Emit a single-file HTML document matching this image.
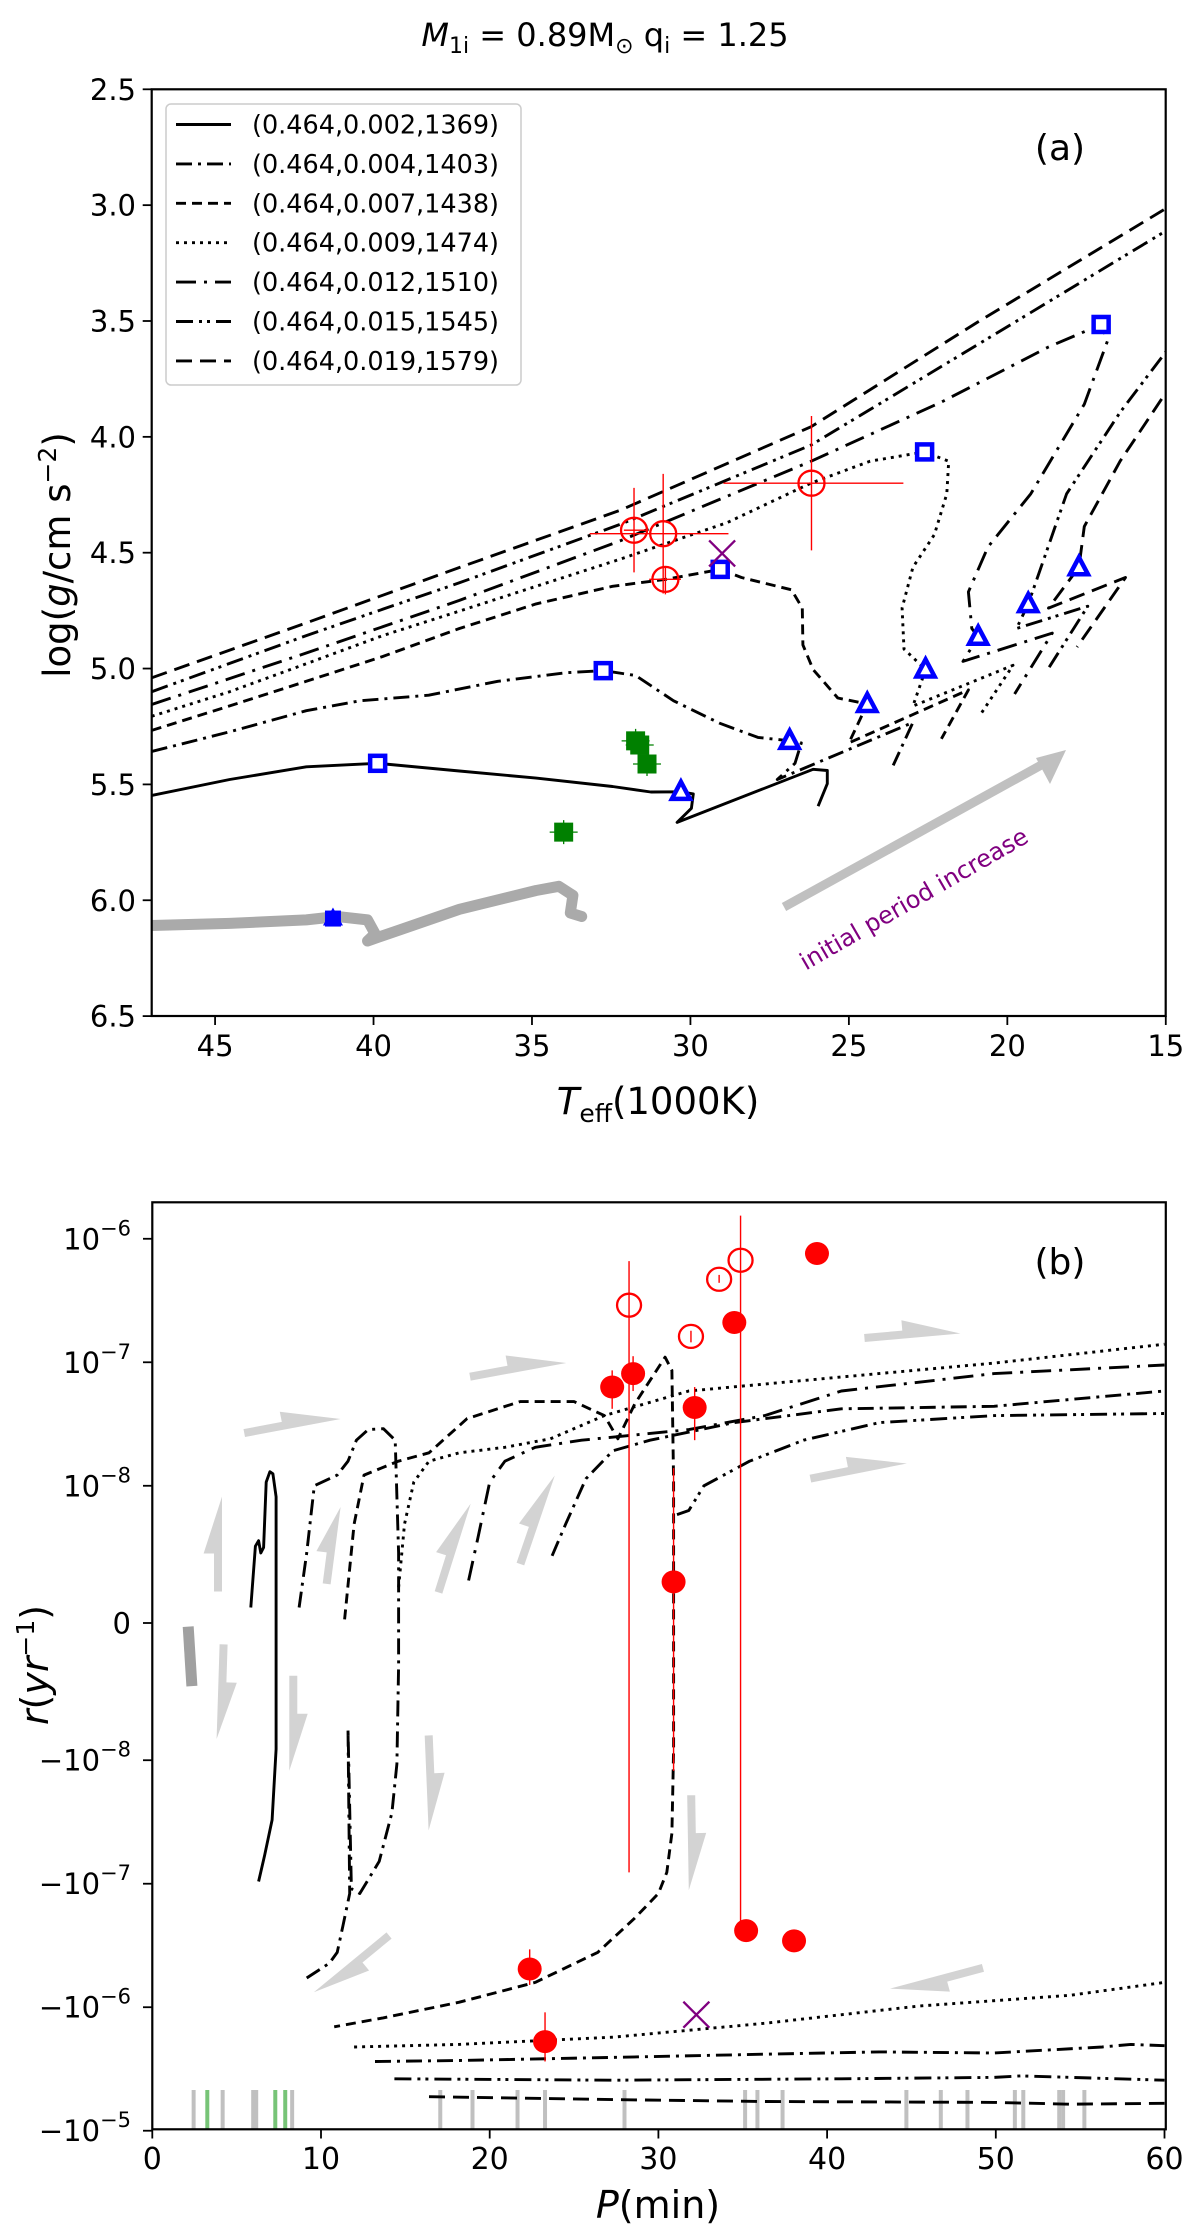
<!DOCTYPE html>
<html><head><meta charset="utf-8"><style>
html,body{margin:0;padding:0;background:#fff;}
svg{display:block;font-family:"DejaVu Sans","Liberation Sans",sans-serif;}
</style></head><body>
<svg id="fig" xmlns="http://www.w3.org/2000/svg" width="1200" height="2231" viewBox="0 0 1200 2231">
<defs>
<clipPath id="clipA"><rect x="151.7" y="89.3" width="1014" height="926.7"/></clipPath>
<clipPath id="clipB"><rect x="152" y="1202" width="1014" height="927.5"/></clipPath>
</defs>
<text x="605" y="46" font-size="32" text-anchor="middle"><tspan font-style="italic">M</tspan><tspan font-size="22" dy="7">1i</tspan><tspan dy="-7"> = 0.89M</tspan><tspan font-size="22" dy="7">⊙</tspan><tspan dy="-7"> q</tspan><tspan font-size="22" dy="7">i</tspan><tspan dy="-7"> = 1.25</tspan></text>
<g id="panelA"></g>
<g id="panelB"></g>
</svg>
<script>
// ---------- Panel (a) data: Teff (1000K) and log g ----------
const c002T=[47,44.54,42.12,39.87,37.29,34.87,32.46,31.25,30.30,29.91,29.97,30.42,26.13,25.68,25.68,25.97];
const c002G=[5.548,5.479,5.424,5.409,5.442,5.473,5.509,5.533,5.532,5.541,5.603,5.664,5.435,5.440,5.497,5.594];
const c004T=[47,44.54,42.12,40.43,38.26,36.08,33.91,32.75,31.73,30.53,29.08,27.87,26.87,26.5,26.7,27.26,22.98,23.6];
const c004G=[5.358,5.273,5.182,5.139,5.115,5.055,5.018,5.009,5.03,5.139,5.236,5.297,5.312,5.321,5.409,5.479,5.233,5.418];
const c007T=[47,44.54,42.12,39.71,37.29,34.87,32.46,30.77,29.06,28.39,26.81,26.47,26.45,26.13,25.35,24.42,25.0,21.23,22.08];
const c007G=[5.267,5.161,5.055,4.948,4.827,4.721,4.645,4.615,4.572,4.607,4.660,4.739,4.898,5.004,5.127,5.153,5.321,5.092,5.303];
const c009T=[47,44.54,42.12,39.71,37.29,34.87,32.22,28.84,26.19,24.33,22.61,21.85,21.91,22.3,22.98,23.32,23.26,22.58,22.98,19.82,20.84];
const c009G=[5.206,5.1,4.979,4.858,4.752,4.645,4.528,4.37,4.199,4.105,4.065,4.105,4.246,4.422,4.563,4.739,4.916,5.004,5.162,4.986,5.197];
const c012T=[47,42.12,37.29,32.22,26.19,22.08,18.7,17.04,16.84,17.57,19.26,20.61,21.23,21.12,20.92,21.4,18.58,19.77];
const c012G=[5.155,4.933,4.706,4.449,4.105,3.85,3.612,3.515,3.586,3.859,4.246,4.475,4.669,4.827,4.863,4.969,4.847,5.11];
const c015T=[47,42.12,37.29,32.22,26.19,20.95,14.98,13.5,14.98,16.44,18.13,19.34,19.71,17.46,18.76];
const c015G=[5.1,4.858,4.63,4.378,4.035,3.603,3.11,3.35,3.63,3.894,4.246,4.722,4.827,4.731,5.012];
const c019T=[47,42.12,37.29,32.22,26.19,20.95,14.98,13.3,14.98,16.44,17.57,17.74,18.7,16.27,17.8];
const c019G=[5.04,4.803,4.564,4.317,3.956,3.506,3.013,3.4,3.806,4.105,4.387,4.563,4.739,4.607,4.907];
const grayT=[47,44.54,42.12,41.15,40.19,39.95,40.19,39.22,37.29,34.87,34.15,33.71,33.79,33.43];
const grayG=[6.109,6.1,6.085,6.07,6.085,6.145,6.176,6.13,6.039,5.958,5.94,5.979,6.055,6.07];
const triT=[30.30,26.87,24.42,22.58,20.92,19.34,17.74];
const triG=[5.532,5.312,5.153,5.004,4.863,4.722,4.563];
const sqT=[39.87,32.75,29.06,22.61,17.04];
const sqG=[5.409,5.009,4.572,4.065,3.515];
const obsT=[31.78,30.86,30.79,26.18];
const obsG=[4.403,4.418,4.615,4.2];
const obsTlo=[32.1,33.18,31.3,28.96];
const obsThi=[31.4,28.8,30.3,23.28];
const obsGlo=[4.22,4.16,4.56,3.91];
const obsGhi=[4.585,4.676,4.68,4.49];
const grnT=[31.73,31.6,31.37,34.0];
const grnG=[5.312,5.33,5.412,5.706];
const crossA=[29.0,4.503];
const legendLabels=["(0.464,0.002,1369)","(0.464,0.004,1403)","(0.464,0.007,1438)","(0.464,0.009,1474)","(0.464,0.012,1510)","(0.464,0.015,1545)","(0.464,0.019,1579)"];
const xTicksA=[45,40,35,30,25,20,15];
const yTicksA=[2.5,3.0,3.5,4.0,4.5,5.0,5.5,6.0,6.5];

// ---------- Panel (b) data: P (min) and r (yr^-1) ----------
const b002P=[5.84,6.11,6.3,6.43,6.6,6.75,6.97,7.15,7.34,7.34,7.34,7.1,6.66,6.3];
const b002R=[1.13e-9,5.6e-9,6.0e-9,5.1e-9,5.5e-9,1.07e-8,1.3e-8,1.25e-8,9.2e-9,0,-9.2e-9,-3.04e-8,-5.85e-8,-9.6e-8];
const b004P=[8.7,9.15,9.6,10.96,11.6,12.1,12.8,13.7,14.4,14.6,14.6,14.5,14.2,13.45,12.3,11.8,11.6,11.7,11.3,10.96,10.5,9.15];
const b004R=[1.13e-9,5.1e-9,1e-8,1.22e-8,1.58e-8,2.34e-8,2.85e-8,2.9e-8,2.34e-8,5.1e-9,-3.1e-9,-1.07e-8,-2.67e-8,-6.6e-8,-1.2e-7,-1.1e-7,-7.7e-9,-1.2e-7,-2.2e-7,-3.6e-7,-4.4e-7,-5.8e-7];
const b007P=[11.4,11.96,12.55,14.58,16.4,18.66,21.8,25,26.8,27.6,28.6,30.4,30.8,30.9,30.9,30.9,30.8,30.5,30,28.6,26.4,22.7,18.2,13.68,10.78];
const b007R=[2.6e-10,7.2e-9,1.22e-8,1.58e-8,1.85e-8,3.5e-8,4.8e-8,4.8e-8,3.7e-8,2.4e-8,4.6e-8,1.1e-7,8.6e-8,1.07e-8,0,-9.2e-9,-3.9e-8,-8.1e-8,-1.2e-7,-1.9e-7,-3.6e-7,-6.3e-7,-9.1e-7,-1.22e-6,-1.44e-6];
const b009P=[14.6,14.95,15.5,16.4,18.2,20.9,23.6,26.8,31.8,40.85,49.9,60];
const b009R=[2.6e-9,7.2e-9,1.07e-8,1.58e-8,1.85e-8,2.05e-8,2.4e-8,3.7e-8,5.85e-8,7.6e-8,9.85e-8,1.4e-7];
const b009lP=[11.96,18.2,27.3,36.3,45.4,54.4,60];
const b009lR=[-2.1e-6,-2.0e-6,-1.75e-6,-1.35e-6,-9.8e-7,-8.0e-7,-6.3e-7];
const b012P=[18.75,19.3,20,20.9,22.7,25.45,31.8,36.3,40.85,49.9,60];
const b012R=[3.1e-9,6.2e-9,1.07e-8,1.58e-8,2.05e-8,2.34e-8,2.85e-8,3.7e-8,5.85e-8,8.1e-8,9.5e-8];
const b012lP=[13.2,18.2,27.3,36.3,43.1,49.9,56.3,58,60];
const b012lR=[-2.75e-6,-2.7e-6,-2.55e-6,-2.4e-6,-2.3e-6,-2.35e-6,-2.1e-6,-2.0e-6,-2.05e-6];
const b015P=[23.7,24.5,25.7,27.3,29.5,34.5,40.85,49.9,60];
const b015R=[4.9e-9,7.2e-9,1.14e-8,1.92e-8,2.34e-8,3.25e-8,4.2e-8,4.4e-8,5.85e-8];
const b015lP=[14.35,27.3,40.85,49.9,51.5,60];
const b015lR=[-3.8e-6,-3.9e-6,-3.8e-6,-3.7e-6,-3.6e-6,-3.9e-6];
const b019P=[31.1,31.8,32.7,35.4,38.6,43.1,49.9,60];
const b019R=[7.9e-9,8.2e-9,1e-8,1.58e-8,2.34e-8,3.25e-8,3.7e-8,3.85e-8];
const b019lP=[16.4,27.3,36.3,49.9,54.4,60];
const b019lR=[-5.3e-6,-5.6e-6,-5.8e-6,-5.9e-6,-6.1e-6,-6.0e-6];
const bGrayP=[2.13,2.35];
const bGrayR=[-2.6e-10,-4.6e-9];
const filledP=[27.26,28.5,32.15,34.5,39.4,30.9,35.2,38.04,22.37,23.28];
const filledR=[6.3e-8,8.1e-8,4.3e-8,2.1e-7,7.6e-7,3.0e-9,-2.4e-7,-2.9e-7,-4.9e-7,-1.9e-6];
const filledLo=[4.2e-8,5.85e-8,2.34e-8,null,null,-1.22e-8,null,null,-6.6e-7,-2.75e-6];
const filledHi=[8.6e-8,1.12e-7,6.3e-8,null,null,1.39e-8,null,null,-3.4e-7,-1.1e-6];
const openP=[28.26,31.93,33.6,34.87];
const openR=[2.9e-7,1.62e-7,4.7e-7,6.7e-7];
const openLo=[-8.1e-8,1.45e-7,4.4e-7,-2.2e-7];
const openHi=[6.6e-7,1.8e-7,5.1e-7,1.54e-6];
const crossB=[32.25,-1.15e-6];
const rugGrayP=[2.45,4.17,5.98,6.16,8.29,17.07,18.98,21.65,23.28,27.99,35.14,35.87,37.36,44.7,46.74,48.32,51.13,51.63,53.76,53.99,55.25];
const rugGreenP=[3.26,7.29,7.88];
const xTicksB=[0,10,20,30,40,50,60];
const yTicksB=[1e-6,1e-7,1e-8,0,-1e-8,-1e-7,-1e-6,-1e-5];
const yTickLabB=["6","7","8","0","8","7","6","5"];

// ---------- helpers ----------
const NS="http://www.w3.org/2000/svg";
function mk(tag,attrs,parent){const e=document.createElementNS(NS,tag);for(const k in attrs)e.setAttribute(k,attrs[k]);parent.appendChild(e);return e;}
const XA=T=>151.7+(47-T)*31.69;
const YA=g=>89.3+(g-2.5)*231.7;
const XB=P=>152.3+P*16.87;
function YB(r){const lt=1e-8,ls=1/0.9;const a=Math.abs(r);let s;if(a<=lt)s=r/lt*ls;else s=Math.sign(r)*(ls+Math.log10(a/lt));return 1623-s*123.5;}
const LW=2.9;
const DASH={c002:"",c004:"16,6,3,6",c007:"10,6",c009:"3,5",c012:"20,8,3,8",c015:"17,6,3,5,3,6",c019:"16,8"};

const A=document.getElementById('panelA');
const B=document.getElementById('panelB');

// ---------- Panel A ----------
const gA=mk('g',{'clip-path':'url(#clipA)'},A);


function lineA(Ts,Gs,name,extra){
  const d=Ts.map((t,i)=>(i?'L':'M')+XA(t).toFixed(1)+' '+YA(Gs[i]).toFixed(1)).join(' ');
  const p=mk('path',Object.assign({d:d,fill:'none',stroke:'#000','stroke-width':LW,'stroke-linejoin':'round'},extra||{}),gA);
  
  
  return p;
}
const grayLine=lineA(grayT,grayG,'gray-track-a',{stroke:'#aaaaaa','stroke-width':11,'stroke-linecap':'round'});
const curvesA=[['c002',c002T,c002G],['c004',c004T,c004G],['c007',c007T,c007G],['c009',c009T,c009G],['c012',c012T,c012G],['c015',c015T,c015G],['c019',c019T,c019G]];
curvesA.forEach(c=>{const ex={};if(DASH[c[0]])ex['stroke-dasharray']=DASH[c[0]];lineA(c[1],c[2],'track-'+c[0],ex);});
{const s=mk('rect',{x:XA(41.28)-8,y:YA(6.079)-8,width:16,height:16,fill:'#0000ff'},gA);

}
{const x1=784,y1=907,x2=1054,y2=758;
const l=mk('line',{x1:x1,y1:y1,x2:x2,y2:y2,stroke:'#c0c0c0','stroke-width':9},A);


const h=mk('polygon',{points:'1066,750 1036,758 1050,784',fill:'#c0c0c0'},A);

}
{const t=mk('text',{x:918,y:906,'font-size':24,fill:'#800080','text-anchor':'middle',transform:'rotate(-30 918 906)'},A);
t.textContent='initial period increase';

}
grnT.forEach((t,i)=>{const x=XA(t),y=YA(grnG[i]);
 const e=mk('path',{d:`M${x-14} ${y}H${x+14}M${x} ${y-12}V${y+12}`,stroke:'#008000','stroke-width':1.3},gA);
 
 
 const s=mk('rect',{x:x-9.5,y:y-9.5,width:19,height:19,fill:'#008000'},gA);
 
 });
sqT.forEach((t,i)=>{const s=mk('rect',{x:XA(t)-7.5,y:YA(sqG[i])-7.5,width:15,height:15,fill:'#fff',stroke:'#0000ff','stroke-width':4.5},gA);
 
 });
triT.forEach((t,i)=>{const x=XA(t),y=YA(triG[i]);
 const s=mk('polygon',{points:`${x},${y-10} ${x-9},${y+7} ${x+9},${y+7}`,fill:'#fff',stroke:'#0000ff','stroke-width':4.5,'stroke-linejoin':'miter'},gA);
 
 });
{const x=XA(41.28),y=YA(6.079);const s=mk('polygon',{points:`${x},${y-11} ${x-10},${y+7} ${x+10},${y+7}`,fill:'#0000ff'},gA);

}
obsT.forEach((t,i)=>{const x=XA(t),y=YA(obsG[i]);
 const e=mk('path',{d:`M${XA(obsTlo[i])} ${y}H${XA(obsThi[i])}M${x} ${YA(obsGlo[i])}V${YA(obsGhi[i])}`,stroke:'#ff0000','stroke-width':1.4},gA);
 
 
 const c=mk('ellipse',{cx:x,cy:y,rx:13,ry:12.5,fill:'none',stroke:'#ff0000','stroke-width':2.3},gA);
 
 });
{const x=XA(crossA[0]),y=YA(crossA[1]);const c=mk('path',{d:`M${x-13} ${y-13}L${x+13} ${y+13}M${x-13} ${y+13}L${x+13} ${y-13}`,stroke:'#800080','stroke-width':2.3},gA);

}
{const f=mk('rect',{x:151.7,y:89.3,width:1014,height:926.7,fill:'none',stroke:'#000','stroke-width':2.2},A);

}
xTicksA.forEach(v=>{const x=XA(v);
 const t=mk('line',{x1:x,x2:x,y1:1016,y2:1025,stroke:'#000','stroke-width':1.8},A);
 
 
 const l=mk('text',{x:x,y:1056,'font-size':29,'text-anchor':'middle'},A);l.textContent=v;
 
 });
yTicksA.forEach(v=>{const y=YA(v);
 const t=mk('line',{x1:142.7,x2:151.7,y1:y,y2:y,stroke:'#000','stroke-width':1.8},A);
 
 
 const l=mk('text',{x:136,y:y+10.5,'font-size':29,'text-anchor':'end'},A);l.textContent=v.toFixed(1);
 
 });
{const t=mk('text',{x:658,y:1114,'font-size':37,'text-anchor':'middle'},A);
t.innerHTML='<tspan font-style="italic">T</tspan><tspan font-size="25" dy="8">eff</tspan><tspan dy="-8">(1000K)</tspan>';

}
{const t=mk('text',{x:0,y:0,'font-size':37,'text-anchor':'middle',transform:'translate(70 555) rotate(-90)'},A);
t.innerHTML='log(<tspan font-style="italic">g</tspan>/cm s<tspan font-size="25" dy="-14">−2</tspan><tspan dy="14">)</tspan>';

}
{const t=mk('text',{x:1060,y:160,'font-size':36,'text-anchor':'middle'},A);t.textContent='(a)';

}
{const lg=mk('g',{},A);


mk('rect',{x:166,y:104,width:355,height:281,rx:5,fill:'#fff','fill-opacity':0.85,stroke:'#cccccc','stroke-width':1.5},lg);
legendLabels.forEach((s,i)=>{const y=124.5+i*39.4;const k=['c002','c004','c007','c009','c012','c015','c019'][i];
 const ex={x1:176,x2:231,y1:y,y2:y,stroke:'#000','stroke-width':LW};if(DASH[k])ex['stroke-dasharray']=DASH[k];
 const ln=mk('line',ex,lg);
 
 
 const t=mk('text',{x:252,y:y+9,'font-size':25.5},lg);t.textContent=s;
 
 });}

// ---------- Panel B ----------
const gB=mk('g',{'clip-path':'url(#clipB)'},B);


function lineB(Ps,Rs,name,extra){
  const d=Ps.map((p,i)=>(i?'L':'M')+XB(p).toFixed(1)+' '+YB(Rs[i]).toFixed(1)).join(' ');
  const p=mk('path',Object.assign({d:d,fill:'none',stroke:'#000','stroke-width':LW,'stroke-linejoin':'round'},extra||{}),gB);
  
  
}
rugGrayP.forEach(p=>{const l=mk('line',{x1:XB(p),x2:XB(p),y1:2090,y2:2129,stroke:'#c0c0c0','stroke-width':4},gB);
 
 });
rugGreenP.forEach(p=>{const l=mk('line',{x1:XB(p),x2:XB(p),y1:2090,y2:2129,stroke:'#77c477','stroke-width':4},gB);
 
 });
const bolts=[[245,1437,340.6,1419],[470.7,1380.6,566.3,1363],[864.8,1342,960.4,1333.5],[811.2,1482.5,906.9,1463.5],
[222,1591.5,222,1496.6],[330.6,1584.4,340.6,1507],[442.3,1593.6,470.7,1503.6],[524.2,1565.4,554.8,1475.5],
[219.6,1644.2,216.6,1739],[289.3,1675.8,289.3,1770.7],[424.7,1735.6,428.6,1830.5],[687.2,1795.3,688.8,1890.2],
[386.5,1932.4,313.8,1992.2],[981.9,1964,890,1988.6]];
bolts.forEach(b=>{const dx=b[2]-b[0],dy=b[3]-b[1],L=Math.hypot(dx,dy),ux=dx/L,uy=dy/L,vx=uy,vy=-ux,w=8;
 const pt=(a,c)=>(b[0]+ux*a+vx*c).toFixed(1)+','+(b[1]+uy*a+vy*c).toFixed(1);
 const pg=mk('polygon',{points:[pt(0,0),pt(0,w),pt(0.4*L,w),pt(0.4*L,2.3*w),pt(L,0)].join(' '),fill:'#d3d3d3'},B);
 
 });
lineB(bGrayP,bGrayR,'gray-track-b',{stroke:'#a0a0a0','stroke-width':11});
lineB(b002P,b002R,'track-b-c002',{});
lineB(b004P,b004R,'track-b-c004',{'stroke-dasharray':DASH.c004});
lineB(b007P,b007R,'track-b-c007',{'stroke-dasharray':DASH.c007});
lineB(b009P,b009R,'track-b-c009-upper',{'stroke-dasharray':DASH.c009});
lineB(b009lP,b009lR,'track-b-c009-lower',{'stroke-dasharray':DASH.c009});
lineB(b012P,b012R,'track-b-c012-upper',{'stroke-dasharray':DASH.c012});
lineB(b012lP,b012lR,'track-b-c012-lower',{'stroke-dasharray':DASH.c004});
lineB(b015P,b015R,'track-b-c015-upper',{'stroke-dasharray':DASH.c004});
lineB(b015lP,b015lR,'track-b-c015-lower',{'stroke-dasharray':DASH.c015});
lineB(b019P,b019R,'track-b-c019-upper',{'stroke-dasharray':DASH.c015});
lineB(b019lP,b019lR,'track-b-c019-lower',{'stroke-dasharray':DASH.c019});
filledP.forEach((p,i)=>{const x=XB(p),y=YB(filledR[i]);
 if(filledLo[i]!==null){const e=mk('line',{x1:x,x2:x,y1:YB(filledLo[i]),y2:YB(filledHi[i]),stroke:'#ff0000','stroke-width':1.4},gB);
  
  }
 const c=mk('ellipse',{cx:x,cy:y,rx:12,ry:11.5,fill:'#ff0000'},gB);
 
 });
openP.forEach((p,i)=>{const x=XB(p),y=YB(openR[i]);
 const e=mk('line',{x1:x,x2:x,y1:YB(openLo[i]),y2:YB(openHi[i]),stroke:'#ff0000','stroke-width':1.4},gB);
 
 
 const c=mk('ellipse',{cx:x,cy:y,rx:12,ry:11.5,fill:'none',stroke:'#ff0000','stroke-width':2.3},gB);
 
 });
{const x=XB(crossB[0]),y=YB(crossB[1]);const c=mk('path',{d:`M${x-13} ${y-13}L${x+13} ${y+13}M${x-13} ${y+13}L${x+13} ${y-13}`,stroke:'#800080','stroke-width':2.3},gB);

}
{const f=mk('rect',{x:152.3,y:1202.3,width:1013.5,height:927,fill:'none',stroke:'#000','stroke-width':2.2},B);

}
xTicksB.forEach(v=>{const x=XB(v);
 const t=mk('line',{x1:x,x2:x,y1:2129.3,y2:2138.5,stroke:'#000','stroke-width':1.8},B);
 
 
 const l=mk('text',{x:x,y:2169,'font-size':30,'text-anchor':'middle'},B);l.textContent=v;
 
 });
yTicksB.forEach((v,i)=>{const y=YB(v);
 const t=mk('line',{x1:143,x2:152.3,y1:y,y2:y,stroke:'#000','stroke-width':1.8},B);
 
 
 const l=mk('text',{x:131,y:y+10.5,'font-size':29,'text-anchor':'end'},B);
 if(v===0)l.textContent='0';
 else l.innerHTML=(v<0?'−':'')+'10<tspan font-size="21" dy="-14">−'+yTickLabB[i]+'</tspan>';
 
 });
{const t=mk('text',{x:658,y:2218,'font-size':38,'text-anchor':'middle'},B);
t.innerHTML='<tspan font-style="italic">P</tspan>(min)';

}
{const t=mk('text',{x:0,y:0,'font-size':38,'text-anchor':'middle',transform:'translate(48 1665) rotate(-90)'},B);
t.innerHTML='<tspan font-style="italic">r</tspan>(<tspan font-style="italic">yr</tspan><tspan font-size="25" dy="-14">−1</tspan><tspan dy="14">)</tspan>';

}
{const t=mk('text',{x:1060,y:1274,'font-size':36,'text-anchor':'middle'},B);t.textContent='(b)';

}
</script>
</body></html>
